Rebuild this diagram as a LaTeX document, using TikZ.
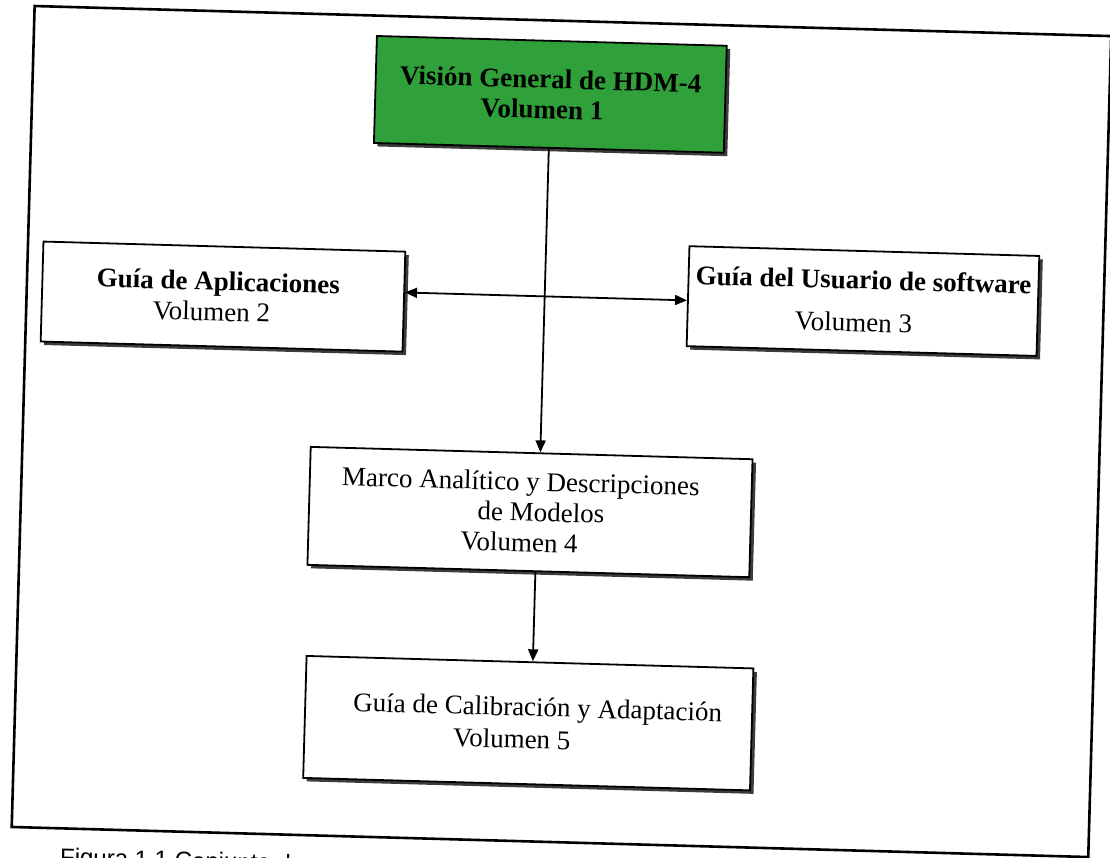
\documentclass[tikz,border=0pt]{standalone}
\usepackage{fontspec}
\setmainfont{Liberation Serif}
\newfontfamily\capfont{Liberation Sans}
\usetikzlibrary{arrows.meta,shadows,calc}
\definecolor{boxgreen}{RGB}{48,160,58}
\definecolor{shadowgray}{RGB}{60,60,60}
\begin{document}
\begin{tikzpicture}[x=1pt,y=-1pt,
  box/.style={draw=black, line width=1.8pt, fill=white, align=center, inner sep=0pt,
    font=\fontsize{27}{30.5}\selectfont,
    drop shadow={shadow xshift=3.5pt, shadow yshift=-3.5pt, fill=shadowgray, opacity=1}},
  conn/.style={line width=1.8pt, -{Triangle[length=12pt,width=10pt]}},
  biconn/.style={line width=1.8pt, {Triangle[length=12pt,width=10pt]}-{Triangle[length=12pt,width=10pt]}},
  frame/.style={line width=2.6pt}]
\useasboundingbox (0,0) rectangle (1110,858);
\clip (0,0) rectangle (1110,858);
\begin{scope}[rotate around={-1.6:(555,429)}, transform shape]
  \draw[frame] (23,20.7) rectangle (1100,842);
  \node[box, fill=boxgreen, minimum width=350pt, minimum height=107pt] (v1) at (541,94.6)
    {\bfseries Visión General de HDM-4\\ \bfseries Volumen 1\hspace*{16pt}};
  \node[box, minimum width=362pt, minimum height=100pt] (v2) at (219.4,305.9)
    {\textbf{Guía de Aplicaciones}\hspace*{10pt}\\ Volumen 2\hspace*{22pt}};
  \node[box, minimum width=350pt, minimum height=100pt] (v3) at (859.3,292.5)
    {\textbf{Guía del Usuario de software}\\[12pt] Volumen 3\hspace*{18pt}};
  \node[box, minimum width=442pt, minimum height=118pt] (v4) at (532.3,512.7)
    {Marco Analítico y Descripciones\hspace*{20pt}\\ \hspace*{22pt}de Modelos\\ Volumen 4\hspace*{20pt}};
  \node[box, minimum width=447pt, minimum height=122pt] (v5) at (536.5,723.8)
    {\hspace*{18pt}Guía de Calibración y Adaptación\\[2pt] Volumen 5\hspace*{32pt}};
  \node[anchor=base west, inner sep=0pt, font=\capfont\fontsize{24}{26}\selectfont] (cap) at (72,879)
    {Figura 1.1 Conjunto de};
  % connectors
  \draw[conn] (v1.south) -- ($(v4.north west)!(v1.south)!(v4.north east)$);
  \coordinate (m4) at ($(v4.south west)!0.516!(v4.south east)$);
  \draw[conn] (m4) -- ($(v5.north west)!(m4)!(v5.north east)$);
  \coordinate (hl) at ($(v2.north east)!0.41!(v2.south east)$);
  \draw[biconn] (hl) -- ($(v3.north west)!(hl)!(v3.south west)$);
\end{scope}
\end{tikzpicture}
\end{document}
